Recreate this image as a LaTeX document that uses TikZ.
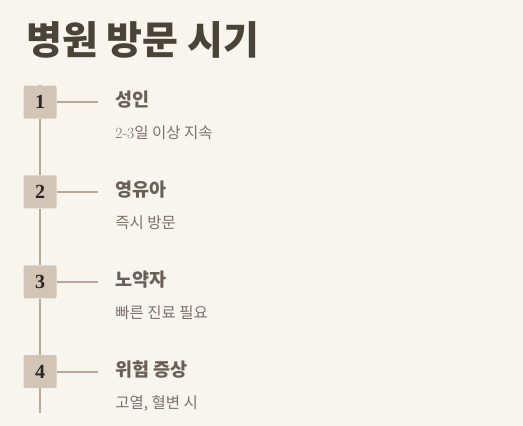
\documentclass[tikz,border=0pt]{standalone}
\usepackage{fontspec}
\newfontfamily\kr{Noto Sans CJK KR}
\newfontfamily\numfont{Liberation Serif}
\usepackage{tikz}
\usetikzlibrary{positioning}
\usepackage{xcolor}
\definecolor{paper}{HTML}{F8F5EF}
\definecolor{titlecol}{HTML}{4A4438}
\definecolor{boxcol}{HTML}{D3C5B5}
\definecolor{linecol}{HTML}{B8A898}
\definecolor{headcol}{HTML}{6A5F56}
\definecolor{subcol}{HTML}{7B7169}
\definecolor{numcol}{HTML}{2A2520}

\begin{document}
\begin{tikzpicture}[
    x=1pt, y=-1pt,
    numbox/.style={rectangle, fill=boxcol, rounded corners=1.5pt, minimum size=33pt, inner sep=0pt, text=numcol, font=\numfont\fontsize{20}{20}\selectfont\bfseries},
    heading/.style={anchor=west, inner sep=0pt, text=headcol, font=\kr\fontsize{18.5}{20}\selectfont\bfseries},
    detail/.style={inner sep=0pt, text=subcol, font=\fontsize{15.5}{17}\selectfont},
    stem/.style={draw=linecol, line width=1.6pt},
    node distance=56.5pt
]
    % Background
    \fill[paper] (0,0) rectangle (523,426);
    \useasboundingbox (0,0) rectangle (523,426);

    % Title
    \node[anchor=base west, inner sep=0pt, text=titlecol, font=\kr\fontsize{39}{41}\selectfont\bfseries] (title) at (26,54) {병원 방문 시기};

    % Steps
    \coordinate (top) at (40,85);
    \node[numbox] (b1) at (40,102) {1};
    \node[numbox, below=of b1] (b2) {2};
    \node[numbox, below=of b2] (b3) {3};
    \node[numbox, below=of b3] (b4) {4};
    \coordinate (bottom) at (40,413);

    % Headings
    \node[heading, right=58.5pt of b1, yshift=2pt] (t1) {성인};
    \node[heading, right=58.5pt of b2, yshift=2pt] (t2) {영유아};
    \node[heading, right=58.5pt of b3, yshift=2pt] (t3) {노약자};
    \node[heading, right=58.5pt of b4, yshift=2pt] (t4) {위험 증상};

    % Details
    \node[detail, below right=17pt and 0pt of t1.south west] (d1) {2-3{\kr 일 이상 지속}};
    \node[detail, below right=17pt and 0pt of t2.south west] (d2) {\kr 즉시 방문};
    \node[detail, below right=17pt and 0pt of t3.south west] (d3) {\kr 빠른 진료 필요};
    \node[detail, below right=17pt and 0pt of t4.south west] (d4) {\kr 고열, 혈변 시};

    % Timeline
    \draw[stem] (top) -- (b1);
    \draw[stem] (b1) -- (b2);
    \draw[stem] (b2) -- (b3);
    \draw[stem] (b3) -- (b4);
    \draw[stem] (b4) -- (bottom);

    % Branches
    \draw[stem, shorten >=17pt] (b1) -- (b1 -| t1.west);
    \draw[stem, shorten >=17pt] (b2) -- (b2 -| t2.west);
    \draw[stem, shorten >=17pt] (b3) -- (b3 -| t3.west);
    \draw[stem, shorten >=17pt] (b4) -- (b4 -| t4.west);
\end{tikzpicture}
\end{document}
